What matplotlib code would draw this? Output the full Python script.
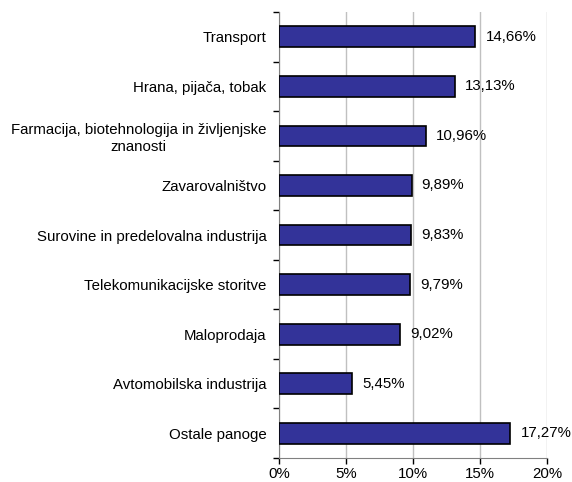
import matplotlib.pyplot as plt
from matplotlib.ticker import FuncFormatter, FixedLocator

# sector shares (%)
sectors = [
    "Transport",
    "Hrana, pijača, tobak",
    "Farmacija, biotehnologija in življenjske\nznanosti",
    "Zavarovalništvo",
    "Surovine in predelovalna industrija",
    "Telekomunikacijske storitve",
    "Maloprodaja",
    "Avtomobilska industrija",
    "Ostale panoge",
]
shares = [14.66, 13.13, 10.96, 9.89, 9.83, 9.79, 9.02, 5.45, 17.27]

plt.rcParams['font.family'] = ['Liberation Sans', 'DejaVu Sans']
plt.rcParams['font.size'] = 10.8

fig = plt.figure(figsize=(5.72, 4.82), dpi=100)
ax = fig.add_axes([0.4878, 0.0498, 0.4685, 0.9252])

y = list(range(len(sectors)))
ax.barh(y, shares, height=0.42, color="#333399", edgecolor="black", linewidth=1.2, zorder=3)

for yi, v in zip(y, shares):
    ax.text(v + 0.75, yi, f"{v:.2f}%".replace(".", ","), va="center", ha="left")

ax.set_xlim(0, 20)
ax.set_ylim(len(sectors) - 0.5, -0.5)
ax.set_xticks([0, 5, 10, 15, 20])
ax.xaxis.set_major_formatter(FuncFormatter(lambda v, p: f"{v:.0f}%"))
ax.set_yticks(y)
ax.set_yticklabels(sectors, multialignment="center")
ax.tick_params(axis="y", length=0, pad=9)
ax.yaxis.set_minor_locator(FixedLocator([i - 0.5 for i in range(len(sectors) + 1)]))
ax.tick_params(axis="y", which="minor", length=4, width=1)
ax.tick_params(axis="x", length=4, width=1, pad=2.5)

ax.grid(axis="x", color="#c0c0c0", linewidth=1, zorder=0)
ax.spines["top"].set_visible(False)
ax.spines["right"].set_visible(False)
ax.spines["left"].set_color("#808080")
ax.spines["bottom"].set_color("#808080")

fig.savefig("out.png", dpi=100)
